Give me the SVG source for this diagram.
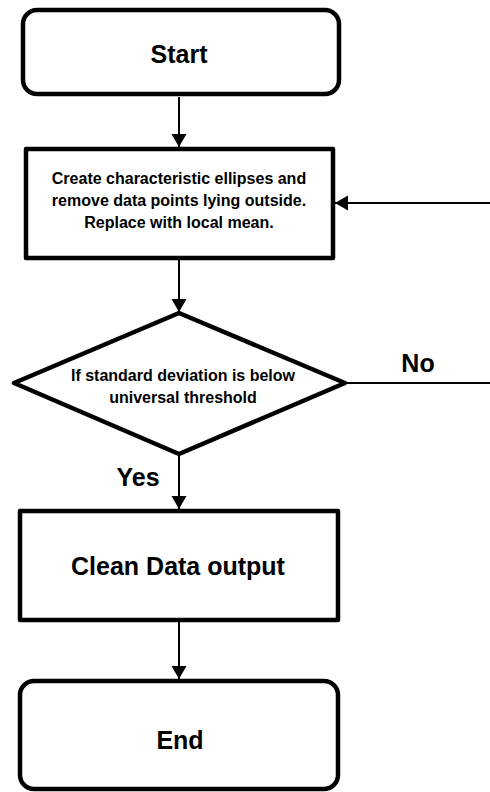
<svg xmlns="http://www.w3.org/2000/svg" width="490" height="792" viewBox="0 0 490 792">
  <defs>
    <marker id="arrow" markerUnits="userSpaceOnUse" markerWidth="14" markerHeight="16" refX="13" refY="7.5" orient="auto">
      <path d="M0,0 L13,7.5 L0,15 Z" fill="#000"/>
    </marker>
    <style>
      .shape { fill: #fff; stroke: #000; stroke-width: 4.5; stroke-linejoin: round; }
      .conn { fill: none; stroke: #000; stroke-width: 2; }
      .big { font-family: "Liberation Sans", Arial, sans-serif; font-weight: bold; font-size: 25px; fill: #000; text-anchor: middle; }
      .small { font-family: "Liberation Sans", Arial, sans-serif; font-weight: bold; font-size: 16px; fill: #000; text-anchor: middle; }
    </style>
  </defs>
  <rect width="490" height="792" fill="#fff"/>

  <g id="connectors">
    <line class="conn" x1="179" y1="97" x2="179" y2="147" marker-end="url(#arrow)"/>
    <line class="conn" x1="179" y1="260" x2="179" y2="312" marker-end="url(#arrow)"/>
    <line class="conn" x1="179" y1="456" x2="179" y2="509" marker-end="url(#arrow)"/>
    <line class="conn" x1="179" y1="622" x2="179" y2="679" marker-end="url(#arrow)"/>
    <line class="conn" x1="346" y1="383" x2="490" y2="383"/>
    <line class="conn" x1="490" y1="203" x2="335" y2="203" marker-end="url(#arrow)"/>
    <text class="big" x="418" y="372">No</text>
    <text class="big" x="138" y="486">Yes</text>
  </g>

  <g id="start">
    <rect class="shape" x="23" y="10" width="316" height="84" rx="14" ry="14"/>
    <text class="big" x="179" y="63">Start</text>
  </g>

  <g id="process">
    <rect class="shape" x="26" y="149" width="307" height="109"/>
    <text class="small" x="179" y="184">Create characteristic ellipses and</text>
    <text class="small" x="179" y="206">remove data points lying outside.</text>
    <text class="small" x="179" y="228">Replace with local mean.</text>
  </g>

  <g id="decision">
    <polygon class="shape" points="179,313 345,383 179,454 14,383"/>
    <text class="small" x="183" y="381">If standard deviation is below</text>
    <text class="small" x="183" y="403">universal threshold</text>
  </g>

  <g id="output">
    <rect class="shape" x="20" y="511" width="318" height="109"/>
    <text class="big" x="178" y="575">Clean Data output</text>
  </g>

  <g id="end">
    <rect class="shape" x="20" y="681" width="318" height="108" rx="14" ry="14"/>
    <text class="big" x="180" y="749">End</text>
  </g>
</svg>
